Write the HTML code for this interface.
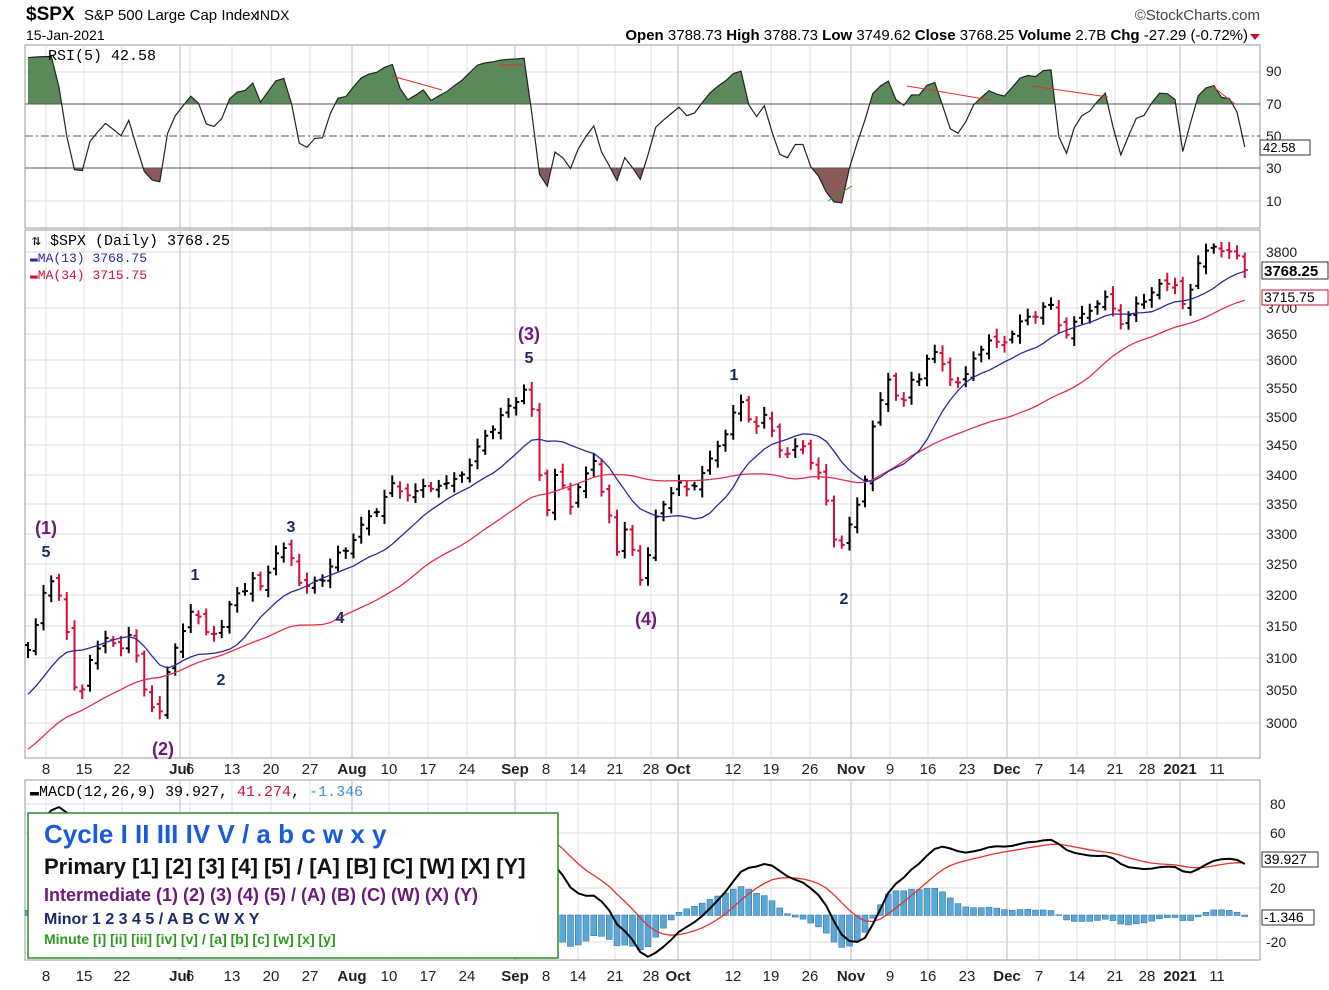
<!DOCTYPE html>
<html><head><meta charset="utf-8"><style>
body{margin:0;background:#fff;}
svg{display:block;font-family:"Liberation Sans",sans-serif;}
</style></head><body>
<svg id="s" width="1329" height="990" viewBox="0 0 1329 990" xmlns="http://www.w3.org/2000/svg">
<rect width="1329" height="990" fill="#fff"/>
<text x="26" y="20" font-size="19" font-weight="bold">$SPX</text>
<text x="84" y="20" font-size="15">S&amp;P 500 Large Cap Index</text>
<text x="256" y="20" font-size="14">INDX</text>
<text x="1260" y="20" font-size="15" text-anchor="end" fill="#444">©StockCharts.com</text>
<text x="26" y="40" font-size="14">15-Jan-2021</text>
<text x="1248" y="40" font-size="15" text-anchor="end"><tspan font-weight="bold">Open</tspan> 3788.73 <tspan font-weight="bold">High</tspan> 3788.73 <tspan font-weight="bold">Low</tspan> 3749.62 <tspan font-weight="bold">Close</tspan> 3768.25 <tspan font-weight="bold">Volume</tspan> 2.7B <tspan font-weight="bold">Chg</tspan> -27.29 (-0.72%)</text>
<polygon points="1250,34 1260,34 1255,40" fill="#c8102e"/>
<g id="grid" stroke="#ddd" stroke-width="1"></g>
<rect x="25" y="45" width="1235" height="183" fill="none" stroke="#999"/>
<rect x="25" y="230" width="1235" height="528" fill="none" stroke="#999"/>
<rect x="25" y="780" width="1235" height="180" fill="none" stroke="#999"/>
<g id="rsi"></g>
<g id="price"></g>
<g id="macd"></g>
<g font-size="14" fill="#222">
<text x="1266" y="76">90</text><text x="1266" y="109">70</text><text x="1266" y="141">50</text><text x="1266" y="173">30</text><text x="1266" y="206">10</text>
<text x="1266" y="257">3800</text><text x="1266" y="313">3700</text><text x="1266" y="339">3650</text><text x="1266" y="365">3600</text><text x="1266" y="393">3550</text><text x="1266" y="422">3500</text><text x="1266" y="450">3450</text><text x="1266" y="480">3400</text><text x="1266" y="509">3350</text><text x="1266" y="539">3300</text><text x="1266" y="569">3250</text><text x="1266" y="600">3200</text><text x="1266" y="631">3150</text><text x="1266" y="663">3100</text><text x="1266" y="695">3050</text><text x="1266" y="728">3000</text>
<text x="1270" y="809">80</text><text x="1270" y="838">60</text><text x="1270" y="893">20</text><text x="1266" y="947">-20</text>
</g>
<rect x="1260" y="140" width="50" height="15" fill="#fff" stroke="#333"/><text x="1263" y="152" font-size="13">42.58</text>
<rect x="1262" y="262" width="66" height="17" fill="#fff" stroke="#333"/><text x="1264" y="276" font-size="15" font-weight="bold">3768.25</text>
<rect x="1262" y="290" width="66" height="15" fill="#fff" stroke="#c8102e"/><text x="1264" y="302" font-size="14">3715.75</text>
<rect x="1262" y="852" width="56" height="15" fill="#fff" stroke="#333"/><text x="1264" y="864" font-size="14">39.927</text>
<rect x="1262" y="910" width="52" height="15" fill="#fff" stroke="#333"/><text x="1264" y="922" font-size="14">-1.346</text>
<text x="48" y="60" font-size="15" font-family="Liberation Mono,monospace">RSI(5) 42.58</text>
<text x="32" y="245" font-size="15" font-family="Liberation Mono,monospace">⇅ $SPX (Daily) 3768.25</text>
<text x="30" y="262" font-size="13" font-family="Liberation Mono,monospace" fill="#2a2a9a">▬MA(13) 3768.75</text>
<text x="30" y="279" font-size="13" font-family="Liberation Mono,monospace" fill="#d0103a">▬MA(34) 3715.75</text>
<text x="30" y="796" font-size="15" font-family="Liberation Mono,monospace">▬MACD(12,26,9) 39.927, <tspan fill="#d0103a">41.274</tspan>, <tspan fill="#3a8fc8">-1.346</tspan></text>
<g id="dates" font-size="15" fill="#222" text-anchor="middle"></g>
<g font-size="18" font-weight="bold" text-anchor="middle">
<text x="46" y="534" fill="#6a1a7a">(1)</text><text x="46" y="557" fill="#1a2a5a" font-size="16">5</text>
<text x="163" y="755" fill="#6a1a7a">(2)</text>
<text x="195" y="580" fill="#1a2a5a" font-size="16">1</text><text x="221" y="685" fill="#1a2a5a" font-size="16">2</text>
<text x="291" y="532" fill="#1a2a5a" font-size="16">3</text><text x="340" y="623" fill="#1a2a5a" font-size="16">4</text>
<text x="529" y="340" fill="#6a1a7a">(3)</text><text x="529" y="363" fill="#1a2a5a" font-size="16">5</text>
<text x="646" y="625" fill="#6a1a7a">(4)</text>
<text x="734" y="380" fill="#1a2a5a" font-size="16">1</text><text x="844" y="604" fill="#1a2a5a" font-size="16">2</text>
</g>
<rect x="28" y="813" width="530" height="145" fill="#fff" stroke="#2a8a2a" stroke-width="1.5"/>
<text x="44" y="843" font-size="26" font-weight="bold" fill="#1a5adc">Cycle I II III IV V / a b c w x y</text>
<text x="44" y="874" font-size="22" font-weight="bold" fill="#111">Primary [1] [2] [3] [4] [5] / [A] [B] [C] [W] [X] [Y]</text>
<text x="44" y="901" font-size="18" font-weight="bold" fill="#6a1a7a">Intermediate (1) (2) (3) (4) (5) / (A) (B) (C) (W) (X) (Y)</text>
<text x="44" y="924" font-size="16" font-weight="bold" fill="#1a2a6a">Minor 1 2 3 4 5 / A B C W X Y</text>
<text x="44" y="944" font-size="14" font-weight="bold" fill="#2a9a1a">Minute [i] [ii] [iii] [iv] [v] / [a] [b] [c] [w] [x] [y]</text>
</svg>
<script>
const NS="http://www.w3.org/2000/svg";
function el(p,t,a){const e=document.createElementNS(NS,t);for(const k in a)e.setAttribute(k,a[k]);p.appendChild(e);return e;}
const S=document.getElementById('s');
const grid=document.getElementById('grid');
const dates=[[46,'8'],[84,'15'],[122,'22'],[180,'Jul',1],[190,'6'],[232,'13'],[271,'20'],[310,'27'],[352,'Aug',1],[389,'10'],[428,'17'],[467,'24'],[515,'Sep',1],[546,'8'],[578,'14'],[615,'21'],[651,'28'],[678,'Oct',1],[733,'12'],[771,'19'],[810,'26'],[851,'Nov',1],[890,'9'],[928,'16'],[967,'23'],[1007,'Dec',1],[1039,'7'],[1077,'14'],[1115,'21'],[1147,'28'],[1180,'2021',1],[1217,'11']];
const dg=document.getElementById('dates');
dates.forEach(d=>{
 [[46,228],[231,758],[781,960]].forEach(r=>el(grid,'line',{x1:d[0],x2:d[0],y1:r[0],y2:r[1],stroke:d[2]?'#bbb':'#e2e2e2'}));
 [774,981].forEach(y=>{const t=el(dg,'text',{x:d[0],y:y});t.textContent=d[1];if(d[2])t.setAttribute('font-weight','bold');});
});
[257,313,339,365,393,422,450,480,509,539,569,600,631,663,695,728].forEach(y=>el(grid,'line',{x1:25,x2:1260,y1:y-5,y2:y-5}));
[804,833,888,942].forEach(y=>el(grid,'line',{x1:25,x2:1260,y1:y,y2:y}));
[72,201].forEach(y=>el(grid,'line',{x1:25,x2:1260,y1:y,y2:y}));
const kp=[[28,650],[40,600],[48,580],[55,590],[64,600],[72,690],[80,700],[86,680],[92,640],[100,645],[108,640],[118,650],[126,640],[132,635],[140,680],[148,690],[156,710],[162,715],[170,660],[178,640],[186,625],[194,610],[202,620],[212,630],[220,640],[228,610],[236,590],[244,595],[252,580],[262,580],[270,565],[280,555],[290,550],[298,580],[306,590],[314,578],[322,575],[330,570],[338,560],[346,550],[354,535],[362,525],[370,515],[378,505],[386,495],[394,490],[402,495],[410,488],[418,490],[426,487],[434,485],[442,482],[450,495],[458,475],[466,465],[474,455],[482,440],[490,430],[498,420],[506,415],[514,408],[522,380],[530,390],[536,455],[542,495],[548,510],[556,470],[562,490],[570,510],[578,480],[586,470],[594,465],[600,490],[608,505],[616,560],[622,535],[630,530],[638,575],[646,570],[652,535],[660,505],[668,500],[676,485],[684,490],[692,480],[700,475],[708,470],[716,450],[724,435],[732,420],[738,398],[746,410],[752,415],[760,430],[766,418],[774,440],[782,450],[790,455],[798,445],[806,440],[814,470],[820,480],[828,515],[836,545],[844,540],[852,520],[860,495],[866,470],[872,430],[880,410],[888,380],[896,390],[904,400],[912,380],[920,375],[928,355],[936,360],[944,370],[952,375],[960,380],[968,375],[976,350],[984,345],[992,345],[1000,350],[1008,330],[1016,325],[1024,320],[1032,318],[1040,310],[1048,305],[1056,322],[1064,330],[1072,320],[1080,320],[1088,313],[1096,303],[1104,300],[1112,310],[1120,318],[1128,310],[1136,308],[1144,305],[1152,290],[1160,285],[1168,288],[1176,280],[1184,300],[1192,290],[1198,270],[1206,250],[1214,245],[1222,255],[1230,250],[1238,248],[1244,260],[1250,270]];
function ip(x){for(let i=1;i<kp.length;i++){if(x<=kp[i][0]){const a=kp[i-1],b=kp[i];return a[1]+(b[1]-a[1])*(x-a[0])/(b[0]-a[0]);}}return kp[kp.length-1][1];}
const xs=[],cy=[];
for(let x=28,i=0;x<=1251;x+=7.75,i++){xs.push(x);cy.push(ip(x)+5*Math.sin(i*1.7)+3*Math.sin(i*0.9));}
cy[cy.length-1]=270;
const pr=document.getElementById('price');
for(let i=0;i<xs.length;i++){
 const c=cy[i],o=i?cy[i-1]+4*Math.sin(i*2.9):c-5;
 const h=Math.min(o,c)-(3+5*Math.abs(Math.sin(i*2.3))),l=Math.max(o,c)+(3+5*Math.abs(Math.cos(i*1.3)));
 const col=(i&&c>cy[i-1])?'#d0103a':'#000';const x=xs[i];
 el(pr,'line',{x1:x,x2:x,y1:h,y2:l,stroke:col,'stroke-width':2});
 el(pr,'line',{x1:x-3,x2:x,y1:o,y2:o,stroke:col,'stroke-width':2});
 el(pr,'line',{x1:x,x2:x+3,y1:c,y2:c,stroke:col,'stroke-width':2});
}
const pad=[];for(let i=0;i<40;i++)pad.push(870-200*i/39+6*Math.sin(i));
const all=pad.concat(cy);const P=pad.length;
function ma(n){const r=[];for(let i=P;i<all.length;i++){let s=0;for(let j=i-n+1;j<=i;j++)s+=all[j];r.push(s/n);}return r;}
function pl(arr,f){return arr.map((v,i)=>xs[i].toFixed(1)+','+f(v).toFixed(1)).join(' ');}
const clipP=el(S,'clipPath',{id:'cp'});el(clipP,'rect',{x:25,y:231,width:1235,height:527});
el(pr,'polyline',{points:pl(ma(34),v=>v),fill:'none',stroke:'#e0304a','stroke-width':1.3,'clip-path':'url(#cp)'});
el(pr,'polyline',{points:pl(ma(13),v=>v),fill:'none',stroke:'#2a2a9a','stroke-width':1.3,'clip-path':'url(#cp)'});
const p=all.map(y=>3800-(y-252)/0.589);
let ag=0,al=0;const rsi=[];
for(let i=1;i<p.length;i++){const d=p[i]-p[i-1];const g=Math.max(d,0),l=Math.max(-d,0);ag=(ag*4+g)/5;al=(al*4+l)/5;if(i>=P)rsi.push(al==0?100:100-100/(1+ag/al));}
const ry=r=>104+(70-r)*1.6;
const rg=document.getElementById('rsi');
const cpa=el(S,'clipPath',{id:'ra'});el(cpa,'rect',{x:25,y:45,width:1235,height:59});
const cpb=el(S,'clipPath',{id:'rb'});el(cpb,'rect',{x:25,y:168,width:1235,height:60});
const pts=pl(rsi,ry);
el(rg,'polygon',{points:xs[0]+',104 '+pts+' '+xs[xs.length-1]+',104',fill:'#5a8a5a','clip-path':'url(#ra)'});
el(rg,'polygon',{points:xs[0]+',168 '+pts+' '+xs[xs.length-1]+',168',fill:'#8a5a5a','clip-path':'url(#rb)'});
el(rg,'line',{x1:25,x2:1260,y1:104,y2:104,stroke:'#555'});
el(rg,'line',{x1:25,x2:1260,y1:168,y2:168,stroke:'#555'});
el(rg,'line',{x1:25,x2:1260,y1:136,y2:136,stroke:'#555','stroke-dasharray':'8,3,2,3'});
el(rg,'polyline',{points:pts,fill:'none',stroke:'#222','stroke-width':1.2});
[[392,76,442,90],[498,65,522,65],[907,86,990,100],[1032,86,1108,97],[1212,86,1235,104]].forEach(a=>el(rg,'line',{x1:a[0],y1:a[1],x2:a[2],y2:a[3],stroke:'#e03030'}));
el(rg,'line',{x1:828,y1:201,x2:852,y2:186,stroke:'#2a9a2a'});
function ema(a,n){const k=2/(n+1);const r=[a[0]];for(let i=1;i<a.length;i++)r.push(a[i]*k+r[i-1]*(1-k));return r;}
const e12=ema(p,12),e26=ema(p,26);const m=e12.map((v,i)=>v-e26[i]);const sg=ema(m,9);
const mg=document.getElementById('macd');
const my=v=>915-v*1.375;
const cpm=el(S,'clipPath',{id:'cm'});el(cpm,'rect',{x:25,y:781,width:1235,height:179});
for(let i=0;i<xs.length;i++){const h=m[i+P]-sg[i+P];const y0=my(0),y1=my(h);
 el(mg,'rect',{x:xs[i]-3,y:Math.min(y0,y1),width:6,height:Math.abs(y1-y0)+0.5,fill:'#5aa8d8',stroke:'#2a6a9a','stroke-width':0.5});}
el(mg,'polyline',{points:pl(sg.slice(P),my),fill:'none',stroke:'#e8302a','stroke-width':1.3,'clip-path':'url(#cm)'});
el(mg,'polyline',{points:pl(m.slice(P),my),fill:'none',stroke:'#000','stroke-width':2,'clip-path':'url(#cm)'});
</script>
</body></html>
